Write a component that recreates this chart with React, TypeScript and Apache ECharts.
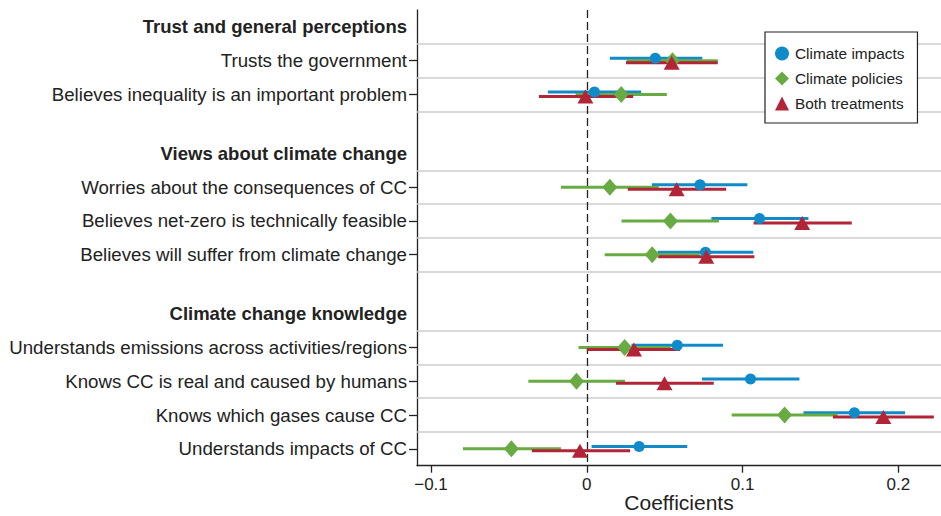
import React, { useEffect, useRef } from "react";
import * as echarts from "echarts";

// Row labels (headers + items) and their vertical positions (in row units, top = 0)
const rowLabels = [
  "Trust and general perceptions",
  "Trusts the government",
  "Believes inequality is an important problem",
  "Views about climate change",
  "Worries about the consequences of CC",
  "Believes net-zero is technically feasible",
  "Believes will suffer from climate change",
  "Climate change knowledge",
  "Understands emissions across activities/regions",
  "Knows CC is real and caused by humans",
  "Knows which gases cause CC",
  "Understands impacts of CC",
];
const rowPositions = [0, 1, 2, 3.75, 4.75, 5.75, 6.75, 8.5, 9.5, 10.5, 11.5, 12.5];
const rowIsHeader = [true, false, false, true, false, false, false, true, false, false, false, false];

// Item rows (the 9 outcomes), top to bottom
const itemPositions = [1, 2, 4.75, 5.75, 6.75, 9.5, 10.5, 11.5, 12.5];

// Separator lines between rows
const separatorPositions = [0.5, 1.5, 2.5, 4.25, 5.25, 6.25, 7.25, 9, 10, 11, 12];

const xTicks = [-0.1, 0, 0.1, 0.2];

// Climate impacts
const impactsCoef = [0.044, 0.0049, 0.0727, 0.1109, 0.0762, 0.0581, 0.1051, 0.1718, 0.0336];
const impactsLow = [0.0148, -0.025, 0.0418, 0.08, 0.0455, 0.0287, 0.074, 0.1391, 0.0031];
const impactsHigh = [0.0742, 0.0349, 0.1031, 0.1423, 0.1069, 0.0875, 0.1365, 0.2043, 0.0645];

// Climate policies
const policiesCoef = [0.055, 0.0221, 0.0148, 0.0537, 0.042, 0.0243, -0.0066, 0.127, -0.0484];
const policiesLow = [0.0255, -0.0072, -0.0166, 0.0223, 0.0115, -0.0053, -0.0375, 0.093, -0.0795];
const policiesHigh = [0.0841, 0.0514, 0.0462, 0.0848, 0.0725, 0.0539, 0.0245, 0.161, -0.0166];

// Both treatments
const bothCoef = [0.0545, -0.0009, 0.0577, 0.1383, 0.0767, 0.0303, 0.0499, 0.1904, -0.0044];
const bothLow = [0.0252, -0.0307, 0.0263, 0.1071, 0.0458, 0.0, 0.0188, 0.158, -0.0353];
const bothHigh = [0.0841, 0.0298, 0.0895, 0.1701, 0.1076, 0.0598, 0.0815, 0.2228, 0.0278];

const FONT = "'Liberation Sans', Arial, Helvetica, sans-serif";

const treatments = [
  { name: "Climate impacts", color: "#0e8bc8", symbol: "circle", size: 11, offset: -0.07, coef: impactsCoef, low: impactsLow, high: impactsHigh },
  { name: "Climate policies", color: "#69ab43", symbol: "diamond", size: [15, 17], offset: 0, coef: policiesCoef, low: policiesLow, high: policiesHigh },
  { name: "Both treatments", color: "#b12537", symbol: "triangle", size: [16, 14], offset: 0.06, coef: bothCoef, low: bothLow, high: bothHigh },
];

function fmtX(v: number): string {
  if (Math.abs(v) < 1e-9) return "0";
  const s = String(Math.round(Math.abs(v) * 10) / 10);
  return v < 0 ? "\u2212" + s : s;
}

function labelFor(v: number): string {
  const i = rowPositions.findIndex((p) => Math.abs(p - v) < 1e-6);
  if (i < 0) return "";
  return rowIsHeader[i] ? "{b|" + rowLabels[i] + "}" : rowLabels[i];
}

export default function App() {
  const ref = useRef<HTMLDivElement>(null);

  useEffect(() => {
    if (!ref.current) return;
    const chart = echarts.init(ref.current, undefined, { renderer: "svg" });

    const barSeries = treatments.map((t) => ({
      type: "custom",
      name: t.name + " CI",
      z: 3,
      renderItem: (params: any, api: any) => {
        const y = api.value(2);
        const p1 = api.coord([api.value(0), y]);
        const p2 = api.coord([api.value(1), y]);
        return {
          type: "line",
          shape: { x1: p1[0], y1: p1[1], x2: p2[0], y2: p2[1] },
          style: { stroke: t.color, lineWidth: 3 },
        };
      },
      encode: { x: [0, 1], y: 2 },
      data: t.low.map((lo, i) => [lo, t.high[i], itemPositions[i] + t.offset]),
      silent: true,
    }));

    const pointSeries = treatments.map((t) => ({
      type: "scatter",
      name: t.name,
      z: 4,
      symbol: t.symbol,
      symbolSize: t.size,
      itemStyle: { color: t.color, opacity: 1 },
      data: t.coef.map((c, i) => [c, itemPositions[i] + t.offset]),
      silent: true,
    }));

    const refSeries = {
      type: "line",
      name: "refs",
      z: 1,
      data: [],
      silent: true,
      markLine: {
        silent: true,
        z: 1,
        symbol: "none",
        animation: false,
        label: { show: false },
        data: [
          ...separatorPositions.map((p) => ({
            yAxis: p,
            lineStyle: { color: "#cdcdcd", width: 1.5, type: "solid" },
          })),
          {
            xAxis: 0,
            lineStyle: { color: "#222", width: 1.3, type: [8, 4] },
          },
        ],
      },
    };

    chart.setOption({
      animation: false,
      textStyle: { fontFamily: FONT },
      grid: { left: 417, right: 0, top: 10, bottom: 50.3, containLabel: false, outerBoundsMode: "none" },
      legend: {
        data: treatments.map((t) => t.name),
        orient: "vertical",
        left: 765,
        top: 32,
        z: 10,
        padding: [14, 13, 12, 10],
        itemGap: 10,
        itemWidth: 14,
        itemHeight: 14,
        backgroundColor: "#ffffff",
        borderColor: "#222",
        borderWidth: 1.2,
        selectedMode: false,
        textStyle: { fontSize: 15.4, color: "#222", fontFamily: FONT, padding: [0, 0, 0, 1] },
      },
      xAxis: {
        type: "value",
        min: -0.109,
        max: 0.2274,
        name: "Coefficients",
        nameLocation: "middle",
        nameGap: 26,
        nameMoveOverlap: false,
        nameTextStyle: { fontSize: 21, color: "#222", fontFamily: FONT },
        splitLine: { show: false },
        axisLine: { show: true, onZero: false, lineStyle: { color: "#222", width: 1.3 } },
        axisTick: { show: true, customValues: xTicks, length: 7, lineStyle: { color: "#222", width: 1.3 } },
        axisLabel: { customValues: xTicks, formatter: fmtX, fontSize: 17, color: "#222", margin: 10, fontFamily: FONT },
      },
      yAxis: {
        type: "value",
        inverse: true,
        min: -0.5,
        max: 13,
        splitLine: { show: false },
        axisLine: { show: true, onZero: false, lineStyle: { color: "#222", width: 1.3 } },
        axisTick: { show: true, customValues: itemPositions, length: 8, lineStyle: { color: "#222", width: 1.3 } },
        axisLabel: {
          customValues: rowPositions,
          formatter: labelFor,
          fontSize: 18.7,
          color: "#222",
          margin: 10,
          fontFamily: FONT,
          rich: { b: { fontWeight: "bold", fontSize: 18.5, color: "#222", fontFamily: FONT } },
        },
      },
      series: [refSeries, ...barSeries, ...pointSeries],
    });

    return () => chart.dispose();
  }, []);

  return (
    <div
      ref={ref}
      style={{ position: "fixed", left: 0, top: 0, width: 941, height: 516, background: "#fff" }}
    />
  );
}
